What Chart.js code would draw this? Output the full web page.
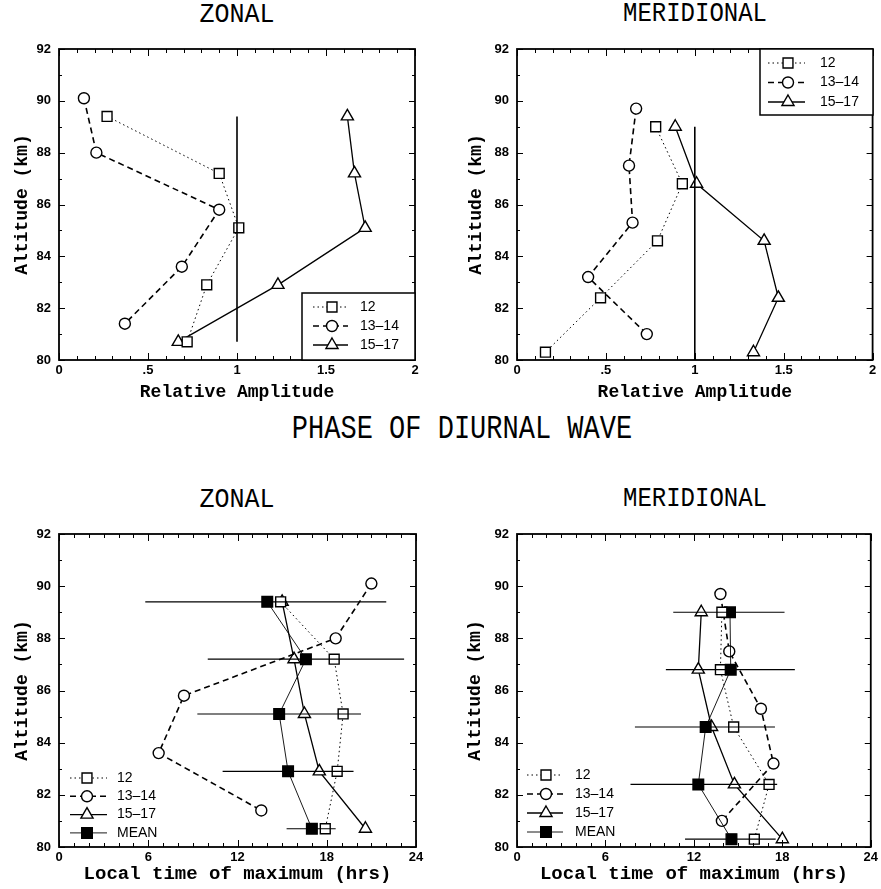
<!DOCTYPE html>
<html>
<head>
<meta charset="utf-8">
<title>Diurnal wave amplitude and phase</title>
<script src="https://cdn.jsdelivr.net/npm/chart.js@4.4.0/dist/chart.umd.min.js"></script>
<style>
body{margin:0;background:#fff}
#page{position:relative;width:881px;height:889px;background:#fff;overflow:hidden}
canvas{position:absolute}
.ttl{position:absolute;font-family:"Liberation Mono",monospace;color:#000;white-space:nowrap;text-align:center;line-height:1;transform-origin:center bottom}
</style>
</head>
<body>
<div id="page">
  <div class="ttl" style="left:59px;width:356px;top:4px;font-size:25px;transform:scaleY(1.12)">ZONAL</div>
  <div class="ttl" style="left:517px;width:356px;top:4px;font-size:24px;transform:scaleY(1.15)">MERIDIONAL</div>
  <div class="ttl" style="left:162px;width:600px;top:420px;font-size:27px;transform:scaleY(1.22)">PHASE OF DIURNAL WAVE</div>
  <div class="ttl" style="left:59px;width:356px;top:489px;font-size:25px;transform:scaleY(1.12)">ZONAL</div>
  <div class="ttl" style="left:517px;width:356px;top:489px;font-size:24px;transform:scaleY(1.15)">MERIDIONAL</div>

  <canvas id="ampZonal" width="440" height="380" style="left:0;top:30px"></canvas>
  <canvas id="ampMerid" width="441" height="380" style="left:440px;top:30px"></canvas>
  <canvas id="phaseZonal" width="440" height="374" style="left:0;top:515px"></canvas>
  <canvas id="phaseMerid" width="441" height="374" style="left:440px;top:515px"></canvas>
</div>
<script>
// altitude levels (km) of each height group
const zonalAlt = [89.4, 87.2, 85.1, 82.9, 80.7];
const zonalAlt1314 = [90.1, 88.0, 85.8, 83.6, 81.4];
const meridAlt = [89.0, 86.8, 84.6, 82.4, 80.3];
const meridAlt1314 = [89.7, 87.5, 85.3, 83.2, 81.0];

// relative amplitude
const ampZonal12 = [0.27, 0.90, 1.01, 0.83, 0.72];
const ampZonal1314 = [0.14, 0.21, 0.90, 0.69, 0.37];
const ampZonal1517 = [1.62, 1.66, 1.72, 1.23, 0.67];
const ampMerid12 = [0.78, 0.93, 0.79, 0.47, 0.16];
const ampMerid1314 = [0.67, 0.63, 0.65, 0.40, 0.73];
const ampMerid1517 = [0.89, 1.01, 1.39, 1.47, 1.33];

// reference line at amplitude 1 (altitude span)
const unitLineZonal = [89.4, 80.7];
const unitLineMerid = [89.0, 80.0];

// local time of maximum (hrs)
const phaseZonal12 = [14.9, 18.5, 19.1, 18.7, 17.9];
const phaseZonal1314 = [21.0, 18.6, 8.4, 6.7, 13.6];
const phaseZonal1517 = [15.0, 15.8, 16.5, 17.5, 20.6];
const phaseZonalMean = [14.0, 16.6, 14.8, 15.4, 17.0];
const phaseZonalLo = [5.8, 10.0, 9.3, 11.0, 15.3];
const phaseZonalHi = [22.0, 23.2, 20.3, 19.8, 18.6];

const phaseMerid12 = [13.9, 13.8, 14.7, 17.1, 16.1];
const phaseMerid1314 = [13.8, 14.4, 16.55, 17.4, 13.9];
const phaseMerid1517 = [12.5, 12.3, 13.2, 14.75, 18.0];
const phaseMeridMean = [14.45, 14.5, 12.8, 12.3, 14.55];
const phaseMeridLo = [10.6, 10.1, 8.0, 7.7, 11.4];
const phaseMeridHi = [18.15, 18.85, 17.5, 17.65, 17.55];

const groupLabels = ['12', '13\u201314', '15\u201317', 'MEAN'];
const altTicks = [80, 82, 84, 86, 88, 90, 92];
const ampTicks = [0, 0.5, 1, 1.5, 2];
const hourTicks = [0, 6, 12, 18, 24];

// marker + line style for each group
const styles = [
  {pointStyle: 'rect', pointRadius: 7, borderDash: [1.5, 3], borderWidth: 1, pointBackgroundColor: '#fff'},
  {pointStyle: 'circle', pointRadius: 5.5, borderDash: [6, 4], borderWidth: 1.6, pointBackgroundColor: '#fff'},
  {pointStyle: 'triangle', pointRadius: 7, borderDash: [], borderWidth: 1.3, pointBackgroundColor: '#fff'},
  {pointStyle: 'rect', pointRadius: 7.5, borderDash: [], borderWidth: 0.9, pointBackgroundColor: '#000'}
];

function pts(xs, ys) {
  return xs.map((v, i) => ({x: v, y: ys[i]}));
}

function curve(g, xs, ys) {
  return Object.assign({
    label: groupLabels[g],
    data: pts(xs, ys),
    showLine: true,
    borderColor: '#000',
    pointBorderColor: '#000',
    pointBorderWidth: 1.4
  }, styles[g]);
}

function plainLine(xs, ys, w) {
  return {label: '', data: pts(xs, ys), showLine: true, borderColor: '#000', borderWidth: w, pointRadius: 0};
}

// horizontal spread bars around the mean
function spreadBars(lo, hi, ys) {
  return ys.map((y, i) => plainLine([lo[i], hi[i]], [y, y], 1.2));
}

function drawMark(ctx, style, r, x, y, fill) {
  ctx.beginPath();
  if (style === 'rect') {
    const s = r * Math.SQRT1_2;
    ctx.rect(x - s, y - s, 2 * s, 2 * s);
  } else if (style === 'circle') {
    ctx.arc(x, y, r, 0, Math.PI * 2);
  } else {
    for (let i = 0; i < 3; i++) {
      const a = i * 2 * Math.PI / 3;
      const px = x + Math.sin(a) * r, py = y - Math.cos(a) * r;
      if (i) ctx.lineTo(px, py); else ctx.moveTo(px, py);
    }
    ctx.closePath();
  }
  ctx.fillStyle = fill;
  ctx.fill();
  ctx.stroke();
}

// box frame with inward ticks on all four sides
const frame = {
  id: 'frame',
  afterDatasetsDraw(chart, args, o) {
    const {ctx, chartArea: a} = chart;
    const x = chart.scales.x, y = chart.scales.y;
    ctx.save();
    ctx.strokeStyle = '#000';
    ctx.lineWidth = 1;
    ctx.beginPath();
    const nx = Math.round((x.max - x.min) / o.xMinor);
    for (let i = 0; i <= nx; i++) {
      const px = Math.round(x.getPixelForValue(x.min + i * o.xMinor)) + 0.5;
      const len = i % o.xEvery === 0 ? 7 : 4;
      ctx.moveTo(px, a.bottom); ctx.lineTo(px, a.bottom - len);
      ctx.moveTo(px, a.top); ctx.lineTo(px, a.top + len);
    }
    const ny = Math.round((y.max - y.min) / o.yMinor);
    for (let i = 0; i <= ny; i++) {
      const py = Math.round(y.getPixelForValue(y.min + i * o.yMinor)) + 0.5;
      const len = i % o.yEvery === 0 ? 6 : 3;
      ctx.moveTo(a.left, py); ctx.lineTo(a.left + len, py);
      ctx.moveTo(a.right, py); ctx.lineTo(a.right - len, py);
    }
    ctx.stroke();
    ctx.lineWidth = 1.8;
    ctx.strokeRect(a.left, a.top, a.right - a.left, a.bottom - a.top);
    ctx.restore();
  }
};

// key drawn inside the plot box
const keyBox = {
  id: 'keyBox',
  afterDraw(chart, args, o) {
    const ctx = chart.ctx;
    ctx.save();
    if (o.box) {
      const b = o.box;
      ctx.fillStyle = '#fff';
      ctx.fillRect(b.x, b.y, b.w, b.h);
      ctx.strokeStyle = '#000';
      ctx.lineWidth = 1.5;
      ctx.strokeRect(b.x, b.y, b.w, b.h);
    }
    o.rows.forEach((di, i) => {
      const ds = chart.data.datasets[di];
      const yy = o.y + i * o.dy;
      ctx.strokeStyle = '#000';
      ctx.lineWidth = ds.borderWidth;
      ctx.setLineDash(ds.borderDash);
      ctx.beginPath();
      ctx.moveTo(o.x0, yy);
      ctx.lineTo(o.x1, yy);
      ctx.stroke();
      ctx.setLineDash([]);
      ctx.lineWidth = ds.pointBorderWidth;
      drawMark(ctx, ds.pointStyle, ds.pointRadius, o.mx, yy, ds.pointBackgroundColor);
      ctx.fillStyle = '#000';
      ctx.font = '14px "Liberation Sans"';
      ctx.textBaseline = 'middle';
      ctx.fillText(ds.label, o.tx, yy);
    });
    ctx.restore();
  }
};

const tickFont = {family: '"Liberation Sans"', size: 13, weight: 'bold'};

function panel(id, o) {
  return new Chart(document.getElementById(id), {
    type: 'scatter',
    data: {datasets: o.datasets},
    options: {
      responsive: false,
      animation: false,
      layout: {padding: {top: 19, right: o.padRight, left: 0, bottom: 0}},
      plugins: {
        legend: {display: false},
        tooltip: {enabled: false},
        frame: o.frame,
        keyBox: o.key
      },
      scales: {
        x: {
          type: 'linear',
          min: o.xTicks[0],
          max: o.xTicks[o.xTicks.length - 1],
          afterBuildTicks: s => { s.ticks = o.xTicks.map(v => ({value: v})); },
          afterFit: s => { s.height = o.bottomH; },
          grid: {display: false, drawTicks: false},
          border: {display: false},
          ticks: {autoSkip: false, maxRotation: 0, padding: 3, color: '#000', font: tickFont, callback: o.xFmt},
          title: {
            display: true, text: o.xTitle, color: '#000',
            font: {family: '"Liberation Mono"', size: o.xTitleSize, weight: 'bold'},
            padding: {top: 0, bottom: o.xTitlePad}
          }
        },
        y: {
          type: 'linear',
          min: altTicks[0],
          max: altTicks[altTicks.length - 1],
          afterBuildTicks: s => { s.ticks = altTicks.map(v => ({value: v})); },
          afterFit: s => { s.width = o.leftW; },
          grid: {display: false, drawTicks: false},
          border: {display: false},
          ticks: {padding: 8, color: '#000', font: tickFont},
          title: {
            display: true, text: 'Altitude (km)', color: '#000',
            font: {family: '"Liberation Mono"', size: 18, weight: 'bold'},
            padding: {top: o.yTitlePad, bottom: 0}
          }
        }
      }
    },
    plugins: [frame, keyBox]
  });
}

const ampFmt = v => (v === 0.5 ? '.5' : String(v));
const hourFmt = v => String(v);

// AMPLITUDE, ZONAL
panel('ampZonal', {
  datasets: [
    plainLine([1, 1], unitLineZonal, 1.6),
    curve(0, ampZonal12, zonalAlt),
    curve(1, ampZonal1314, zonalAlt1314),
    curve(2, ampZonal1517, zonalAlt)
  ],
  xTicks: ampTicks, xFmt: ampFmt, xTitle: 'Relative Amplitude', xTitleSize: 18, xTitlePad: 7,
  padRight: 25, leftW: 59, bottomH: 50, yTitlePad: 12,
  frame: {xMinor: 0.1, xEvery: 5, yMinor: 1, yEvery: 2},
  key: {rows: [1, 2, 3], x0: 313, x1: 348, mx: 332, tx: 360, y: 277, dy: 19, box: {x: 302, y: 263, w: 113, h: 67}}
});

// AMPLITUDE, MERIDIONAL
panel('ampMerid', {
  datasets: [
    plainLine([1, 1], unitLineMerid, 1.6),
    curve(0, ampMerid12, meridAlt),
    curve(1, ampMerid1314, meridAlt1314),
    curve(2, ampMerid1517, meridAlt)
  ],
  xTicks: ampTicks, xFmt: ampFmt, xTitle: 'Relative Amplitude', xTitleSize: 18, xTitlePad: 7,
  padRight: 8, leftW: 77, bottomH: 50, yTitlePad: 26,
  frame: {xMinor: 0.1, xEvery: 5, yMinor: 1, yEvery: 2},
  key: {rows: [1, 2, 3], x0: 328, x1: 365, mx: 348, tx: 380, y: 33, dy: 19.5, box: {x: 320, y: 19, w: 113, h: 66}}
});

// PHASE, ZONAL
panel('phaseZonal', {
  datasets: [
    ...spreadBars(phaseZonalLo, phaseZonalHi, zonalAlt),
    curve(0, phaseZonal12, zonalAlt),
    curve(3, phaseZonalMean, zonalAlt),
    curve(1, phaseZonal1314, zonalAlt1314),
    curve(2, phaseZonal1517, zonalAlt)
  ],
  xTicks: hourTicks, xFmt: hourFmt, xTitle: 'Local time of maximum (hrs)', xTitleSize: 19, xTitlePad: 3,
  padRight: 24, leftW: 59, bottomH: 42, yTitlePad: 12,
  frame: {xMinor: 1, xEvery: 6, yMinor: 1, yEvery: 2},
  key: {rows: [5, 7, 8, 6], x0: 70, x1: 107, mx: 87, tx: 117, y: 263, dy: 18.3, box: null}
});

// PHASE, MERIDIONAL
panel('phaseMerid', {
  datasets: [
    ...spreadBars(phaseMeridLo, phaseMeridHi, meridAlt),
    curve(0, phaseMerid12, meridAlt),
    curve(3, phaseMeridMean, meridAlt),
    curve(1, phaseMerid1314, meridAlt1314),
    curve(2, phaseMerid1517, meridAlt)
  ],
  xTicks: hourTicks, xFmt: hourFmt, xTitle: 'Local time of maximum (hrs)', xTitleSize: 19, xTitlePad: 3,
  padRight: 8, leftW: 77, bottomH: 42, yTitlePad: 25,
  frame: {xMinor: 1, xEvery: 6, yMinor: 1, yEvery: 2},
  key: {rows: [5, 7, 8, 6], x0: 87, x1: 123, mx: 106, tx: 135, y: 260, dy: 19, box: null}
});
</script>
</body>
</html>
